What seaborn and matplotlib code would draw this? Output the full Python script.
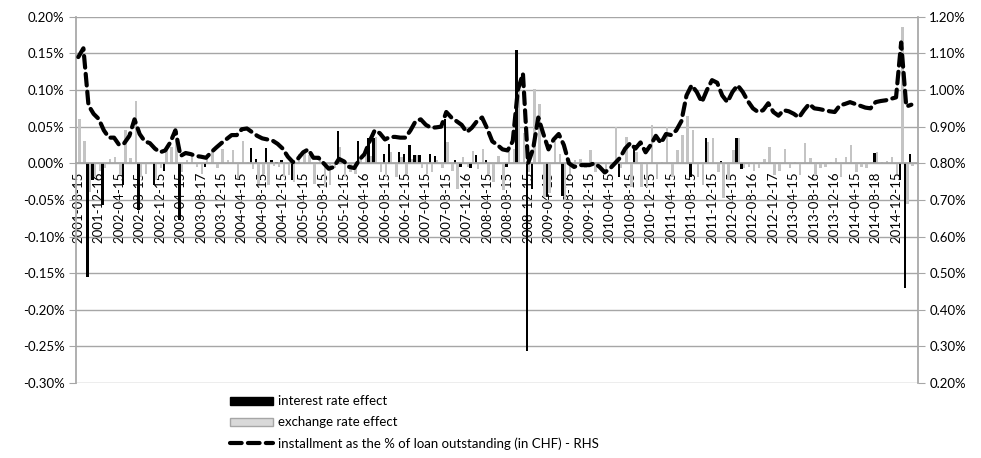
import numpy as np
import pandas as pd
import seaborn as sns
import matplotlib
matplotlib.use("Agg")
import matplotlib.pyplot as plt
from matplotlib.patches import Patch
from matplotlib.lines import Line2D
from matplotlib.ticker import FuncFormatter, MultipleLocator

#%% data (values in %)
months = pd.date_range("2001-08-01", periods=164, freq="MS").strftime("%Y-%m").tolist()

tick_labels = ["2001-08-15", "2001-12-16", "2002-04-15", "2002-08-15", "2002-12-15",
               "2003-04-15", "2003-08-17", "2003-12-15", "2004-04-15", "2004-08-15",
               "2004-12-15", "2005-04-15", "2005-08-15", "2005-12-15", "2006-04-16",
               "2006-08-15", "2006-12-15", "2007-04-15", "2007-08-15", "2007-12-16",
               "2008-04-15", "2008-08-15", "2008-12-15", "2009-04-15", "2009-08-16",
               "2009-12-15", "2010-04-15", "2010-08-15", "2010-12-15", "2011-04-15",
               "2011-08-15", "2011-12-15", "2012-04-15", "2012-08-16", "2012-12-17",
               "2013-04-15", "2013-08-16", "2013-12-16", "2014-04-15", "2014-08-18",
               "2014-12-15"]

interest_effect = [0, 0, -0.155, -0.023, 0, -0.057, 0, 0, 0, -0.030,
                   0, 0, -0.064, 0, 0, -0.030, 0, -0.010, 0, 0,
                   -0.078, 0, 0, 0, 0, -0.005, 0, 0, 0, 0,
                   0, 0, 0, 0, 0.021, 0.006, 0, 0.021, 0.004, 0.002,
                   0.005, 0, -0.023, 0, 0, 0, 0, 0, 0, 0,
                   0, 0.044, 0, 0, 0, 0.031, 0, 0.034, 0.035, 0,
                   0.013, 0.026, 0, 0.015, 0.013, 0.025, 0.011, 0.011, 0, 0.013,
                   0.010, 0, 0.061, 0, 0.005, -0.005, 0, -0.007, 0.011, 0,
                   0.004, 0, 0, 0, -0.005, 0, 0.154, 0, -0.257, -0.035,
                   0, 0, -0.044, 0, 0, -0.045, 0, 0, 0, 0,
                   0, 0, 0, 0, 0, 0, -0.019, 0, 0, 0.025,
                   0, 0, 0, 0, 0, 0, 0, 0, 0, 0,
                   -0.019, 0, 0, 0.034, 0, 0, 0.003, 0, 0, 0.034,
                   -0.008, 0, 0, 0, 0, 0, 0, 0, 0, 0,
                   0, 0, 0, 0, 0, 0, 0, 0, 0, 0,
                   0, 0, 0, 0, 0, 0, 0.014, 0, 0, 0,
                   0, -0.023, -0.170, 0.013]

exchange_effect = [0.061, 0.030, -0.039, -0.019, -0.010, -0.007, 0.006, 0.009, -0.016, 0.045,
                   0.007, 0.085, -0.019, -0.014, 0.002, -0.023, -0.007, 0.020, 0.022, 0.030,
                   -0.012, 0.005, 0.013, -0.005, -0.014, 0.009, 0.015, -0.006, 0.020, 0.004,
                   0.018, -0.020, 0.030, 0.002, -0.008, -0.028, -0.014, -0.030, -0.004, -0.005,
                   -0.019, -0.016, -0.025, 0.013, 0.015, 0.011, -0.028, 0.004, -0.032, -0.030,
                   -0.007, 0.022, -0.019, -0.012, -0.014, 0.009, 0.011, 0.010, 0.036, -0.012,
                   -0.019, 0.015, -0.019, 0.009, -0.014, 0.006, 0.011, -0.006, -0.014, -0.012,
                   0.004, -0.007, 0.029, -0.010, -0.035, 0.009, -0.005, 0.017, -0.008, 0.019,
                   -0.014, -0.025, 0.010, -0.037, 0.015, 0.019, 0.102, 0.041, -0.012, 0.102,
                   0.081, -0.046, -0.040, 0.031, 0.013, -0.050, -0.014, 0.004, 0.006, -0.006,
                   0.018, -0.012, 0.002, -0.014, -0.007, 0.049, -0.007, 0.036, -0.033, 0.015,
                   -0.032, -0.033, 0.052, -0.021, 0.002, 0.050, -0.019, 0.018, 0.038, 0.064,
                   0.046, -0.019, -0.030, 0.029, 0.034, -0.012, -0.048, -0.023, 0.018, 0.034,
                   -0.007, -0.005, -0.010, -0.006, 0.006, 0.022, -0.016, -0.010, 0.020, -0.006,
                   0.002, -0.016, 0.028, 0.007, -0.016, -0.006, -0.005, 0.002, 0.007, -0.019,
                   0.009, 0.025, -0.012, -0.005, -0.006, 0.002, 0.015, 0.002, 0.003, 0.009,
                   -0.014, 0.186, -0.055, -0.004]

installment = [1.090, 1.114, 0.958, 0.935, 0.921, 0.890, 0.870, 0.870, 0.850, 0.855,
               0.875, 0.920, 0.880, 0.860, 0.855, 0.840, 0.830, 0.835, 0.857, 0.890,
               0.820, 0.828, 0.825, 0.820, 0.818, 0.815, 0.830, 0.843, 0.855, 0.866,
               0.877, 0.877, 0.893, 0.895, 0.885, 0.875, 0.868, 0.865, 0.862, 0.853,
               0.840, 0.818, 0.803, 0.813, 0.830, 0.838, 0.815, 0.815, 0.800, 0.785,
               0.790, 0.812, 0.805, 0.790, 0.787, 0.810, 0.825, 0.860, 0.890, 0.882,
               0.865, 0.872, 0.872, 0.870, 0.870, 0.890, 0.915, 0.920, 0.905, 0.897,
               0.898, 0.900, 0.940, 0.925, 0.915, 0.905, 0.885, 0.897, 0.915, 0.925,
               0.895, 0.860, 0.850, 0.838, 0.835, 0.860, 1.000, 1.045, 0.800, 0.840,
               0.925, 0.880, 0.838, 0.865, 0.880, 0.850, 0.800, 0.790, 0.795, 0.795,
               0.795, 0.800, 0.790, 0.775, 0.785, 0.800, 0.815, 0.840, 0.855, 0.840,
               0.857, 0.830, 0.850, 0.875, 0.855, 0.880, 0.877, 0.890, 0.915, 0.985,
               1.013, 0.995, 0.967, 1.000, 1.027, 1.020, 0.985, 0.967, 0.995, 1.013,
               0.995, 0.970, 0.950, 0.940, 0.945, 0.964, 0.940, 0.930, 0.945, 0.942,
               0.935, 0.925, 0.945, 0.962, 0.950, 0.948, 0.945, 0.942, 0.940, 0.958,
               0.962, 0.967, 0.962, 0.957, 0.952, 0.950, 0.967, 0.970, 0.972, 0.976,
               0.980, 1.130, 0.955, 0.960]

lab_ir = "interest rate effect"
lab_ex = "exchange rate effect"
lab_inst = "installment as the % of loan outstanding (in CHF) - RHS"

#%% dataframes
n = len(months)
df_bars = pd.DataFrame({
    "month": months * 2,
    "effect": [lab_ir] * n + [lab_ex] * n,
    "value": interest_effect + exchange_effect,
})
df_line = pd.DataFrame({"pos": np.arange(n), "installment": installment})

#%% style
sns.set_theme(style="white")
plt.rcParams["font.family"] = ["Lato", "DejaVu Sans"]
plt.rcParams["text.color"] = "black"

grid_col = "#a6a6a6"
black = "#000000"
grey_bar = "#c4c4c4"
dash = (0, (2.8, 1.5))

fig = plt.figure(figsize=(9.81, 4.58), dpi=100)
ax = fig.add_axes([0.0772, 0.1638, 0.8586, 0.7995])

sns.barplot(data=df_bars, x="month", y="value", hue="effect",
            hue_order=[lab_ir, lab_ex], palette=[black, grey_bar],
            saturation=1, width=0.95, dodge=True, errorbar=None,
            linewidth=0, legend=False, ax=ax)

ax2 = ax.twinx()
sns.lineplot(data=df_line, x="pos", y="installment", ax=ax2, color=black,
             linewidth=3.0, linestyle=dash, dash_capstyle="round")

#%% axes
ax.set_ylim(-0.30, 0.20)
ax2.set_ylim(0.20, 1.20)
ax.set_xlim(-0.5, n + 0.3)

ax.yaxis.set_major_locator(MultipleLocator(0.05))
ax2.yaxis.set_major_locator(MultipleLocator(0.10))
ax.yaxis.set_major_formatter(FuncFormatter(lambda v, p: f"{round(v, 4) + 0:.2f}%"))
ax2.yaxis.set_major_formatter(FuncFormatter(lambda v, p: f"{v:.2f}%"))

ax.set_xticks(range(0, n, 4))
ax.set_xticklabels(tick_labels)
ax.tick_params(axis="x", length=3, width=0.8, color=grid_col, pad=3,
               labelrotation=90, labelsize=9.5, labelcolor="black")
ax.tick_params(axis="y", length=5, width=0.8, color=grid_col, labelsize=9.5, pad=3,
               left=True, labelcolor="black")
ax2.tick_params(axis="y", length=5, width=0.8, color=grid_col, labelsize=9.5, pad=3,
                right=True, labelcolor="black")

ax.grid(axis="y", color=grid_col, linewidth=1)
ax.set_axisbelow(True)

ax.spines["bottom"].set_position(("data", 0))
ax.spines["bottom"].set_color(grid_col)
ax.spines["left"].set_color(grid_col)
ax.spines["top"].set_visible(False)
ax.spines["right"].set_visible(False)
for s in ["top", "left", "bottom"]:
    ax2.spines[s].set_visible(False)
ax2.spines["right"].set_color(grid_col)

ax.set_xlabel("")
ax.set_ylabel("")
ax2.set_xlabel("")
ax2.set_ylabel("")

#%% legend
handles = [Patch(facecolor=black, edgecolor=black),
           Patch(facecolor="#d9d9d9", edgecolor="#a6a6a6"),
           Line2D([0], [0], color=black, linewidth=3.0, linestyle=dash,
                  dash_capstyle="round")]
fig.legend(handles, [lab_ir, lab_ex, lab_inst], loc="upper left",
           bbox_to_anchor=(0.234, 0.137), frameon=False, fontsize=9.5,
           handlelength=3.3, handleheight=0.55, handletextpad=0.4,
           labelspacing=0.68, borderpad=0, borderaxespad=0)

fig.savefig("out.png", dpi=100)
